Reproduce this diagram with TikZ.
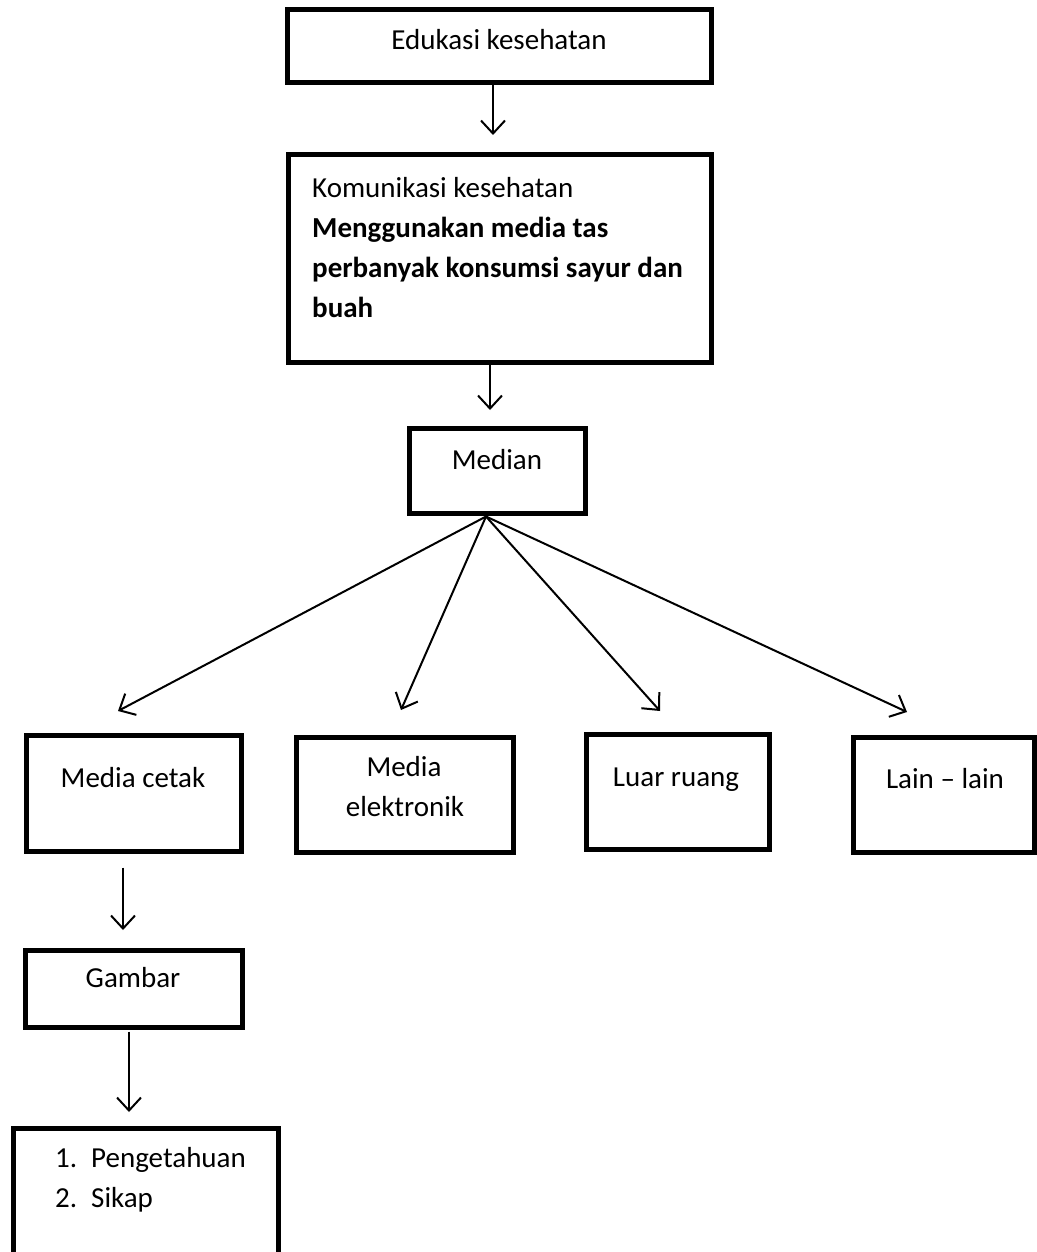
\documentclass[tikz,border=0pt]{standalone}
\usepackage{fontspec}
\setmainfont{Carlito}
\usetikzlibrary{arrows.meta}
\begin{document}
\begin{tikzpicture}[x=1pt,y=-1pt,
  box/.style={draw, line width=5pt, inner sep=0pt},
  txt/.style={inner sep=0pt, font=\fontsize{29}{40}\selectfont},
  arr/.style={line width=2pt, -{Straight Barb[length=13pt,width=24pt,line width=2pt]}}]
\useasboundingbox[fill=white] (0,0) rectangle (1036,1252);
% boxes
\node[box, minimum width=424pt, minimum height=73pt] (b1) at (499,46.5) {};
\node[box, minimum width=423pt, minimum height=207pt] (b2) at (499.5,258.5) {};
\node[box, minimum width=176pt, minimum height=85pt] (b3) at (497,470.5) {};
\node[box, minimum width=215pt, minimum height=116pt] (c1) at (133.5,793) {};
\node[box, minimum width=217pt, minimum height=115pt] (c2) at (404.5,794.5) {};
\node[box, minimum width=183pt, minimum height=115pt] (c3) at (677.5,791.5) {};
\node[box, minimum width=181pt, minimum height=115pt] (c4) at (943.5,794.5) {};
\node[box, minimum width=217pt, minimum height=77pt] (g) at (133.5,988.5) {};
\node[box, minimum width=265pt, minimum height=130pt] (l) at (145.5,1193) {};
% texts
\node[txt, anchor=base] (t1) at (499,50) {Edukasi kesehatan};
\node[txt, anchor=base west] (t2a) at (312,197) {Komunikasi kesehatan};
\node[txt, anchor=base west] (t2b) at (312,237) {\textbf{Menggunakan media tas}};
\node[txt, anchor=base west] (t2c) at (312,277) {\textbf{perbanyak konsumsi sayur dan}};
\node[txt, anchor=base west] (t2d) at (312,317) {\textbf{buah}};
\node[txt, anchor=base] (t3) at (497,469) {Median};
\node[txt, anchor=base] (tc1) at (133,787) {Media cetak};
\node[txt, anchor=base] (tc2a) at (404,776) {Media};
\node[txt, anchor=base] (tc2b) at (405,816) {elektronik};
\node[txt, anchor=base] (tc3) at (676,786) {Luar ruang};
\node[txt, anchor=base] (tc4) at (945,788) {Lain -- lain};
\node[txt, anchor=base] (tg) at (133,987) {Gambar};
\node[txt, anchor=base west] (n1) at (55,1167) {1.};
\node[txt, anchor=base west] (p1) at (91,1167) {Pengetahuan};
\node[txt, anchor=base west] (n2) at (55,1207) {2.};
\node[txt, anchor=base west] (p2) at (91,1207) {Sikap};
% arrow end points
\coordinate (e1) at (493,135);
\coordinate (e2) at (490,410);
\coordinate (m1) at (118,711);
\coordinate (m2) at (401,710);
\coordinate (m3) at (660,711);
\coordinate (m4) at (907,712);
\coordinate (e3) at (123,930);
\coordinate (e4) at (129,1112);
% connectors
\draw[arr] ([xshift=-6pt]b1.south) -- (e1);
\draw[arr] ([xshift=-9.5pt]b2.south) -- (e2);
\draw[arr] ([xshift=-11pt,yshift=-1pt]b3.south) -- (m1);
\draw[arr] ([xshift=-11pt,yshift=-1pt]b3.south) -- (m2);
\draw[arr] ([xshift=-11pt,yshift=-1pt]b3.south) -- (m3);
\draw[arr] ([xshift=-11pt,yshift=-1pt]b3.south) -- (m4);
\draw[arr] ([xshift=-10.5pt,yshift=-14pt]c1.south) -- (e3);
\draw[arr] ([xshift=-4.5pt,yshift=-2pt]g.south) -- (e4);
\end{tikzpicture}
\end{document}
